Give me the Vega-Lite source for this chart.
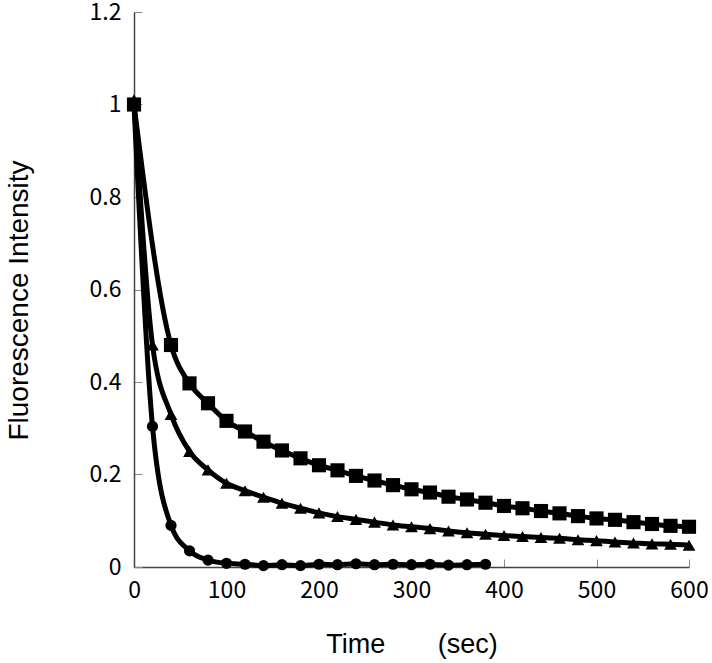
{
  "$schema": "https://vega.github.io/schema/vega-lite/v6.json",
  "width": 555,
  "height": 555,
  "autosize": {"type": "none"},
  "padding": {"left": 134, "top": 12, "right": 23, "bottom": 96},
  "background": "white",
  "config": {
    "view": {"stroke": null},
    "axis": {
      "grid": false,
      "domainColor": "#444",
      "domainWidth": 1.5,
      "tickColor": "#888",
      "tickSize": -8,
      "tickWidth": 1,
      "labelFont": "Noto Sans CJK JP",
      "labelFontSize": 23,
      "labelColor": "#000",
      "titleFont": "Liberation Sans",
      "titleFontWeight": "normal",
      "titleColor": "#000"
    }
  },
  "data": {
    "values": [
      {"series": "A", "t": 0, "v": 1.0},
      {"series": "A", "t": 40, "v": 0.48},
      {"series": "A", "t": 60, "v": 0.397},
      {"series": "A", "t": 80, "v": 0.354},
      {"series": "A", "t": 100, "v": 0.316},
      {"series": "A", "t": 120, "v": 0.293},
      {"series": "A", "t": 140, "v": 0.271},
      {"series": "A", "t": 160, "v": 0.252},
      {"series": "A", "t": 180, "v": 0.235},
      {"series": "A", "t": 200, "v": 0.22},
      {"series": "A", "t": 220, "v": 0.209},
      {"series": "A", "t": 240, "v": 0.197},
      {"series": "A", "t": 260, "v": 0.187},
      {"series": "A", "t": 280, "v": 0.177},
      {"series": "A", "t": 300, "v": 0.168},
      {"series": "A", "t": 320, "v": 0.161},
      {"series": "A", "t": 340, "v": 0.152},
      {"series": "A", "t": 360, "v": 0.146},
      {"series": "A", "t": 380, "v": 0.139},
      {"series": "A", "t": 400, "v": 0.132},
      {"series": "A", "t": 420, "v": 0.127},
      {"series": "A", "t": 440, "v": 0.121},
      {"series": "A", "t": 460, "v": 0.116},
      {"series": "A", "t": 480, "v": 0.110},
      {"series": "A", "t": 500, "v": 0.105},
      {"series": "A", "t": 520, "v": 0.102},
      {"series": "A", "t": 540, "v": 0.097},
      {"series": "A", "t": 560, "v": 0.093},
      {"series": "A", "t": 580, "v": 0.089},
      {"series": "A", "t": 600, "v": 0.087},
      {"series": "B", "t": 0, "v": 1.01},
      {"series": "B", "t": 20, "v": 0.48},
      {"series": "B", "t": 40, "v": 0.33},
      {"series": "B", "t": 60, "v": 0.25},
      {"series": "B", "t": 80, "v": 0.21},
      {"series": "B", "t": 100, "v": 0.181},
      {"series": "B", "t": 120, "v": 0.165},
      {"series": "B", "t": 140, "v": 0.151},
      {"series": "B", "t": 160, "v": 0.138},
      {"series": "B", "t": 180, "v": 0.127},
      {"series": "B", "t": 200, "v": 0.117},
      {"series": "B", "t": 220, "v": 0.109},
      {"series": "B", "t": 240, "v": 0.103},
      {"series": "B", "t": 260, "v": 0.097},
      {"series": "B", "t": 280, "v": 0.091},
      {"series": "B", "t": 300, "v": 0.087},
      {"series": "B", "t": 320, "v": 0.083},
      {"series": "B", "t": 340, "v": 0.078},
      {"series": "B", "t": 360, "v": 0.074},
      {"series": "B", "t": 380, "v": 0.071},
      {"series": "B", "t": 400, "v": 0.068},
      {"series": "B", "t": 420, "v": 0.066},
      {"series": "B", "t": 440, "v": 0.064},
      {"series": "B", "t": 460, "v": 0.062},
      {"series": "B", "t": 480, "v": 0.059},
      {"series": "B", "t": 500, "v": 0.057},
      {"series": "B", "t": 520, "v": 0.054},
      {"series": "B", "t": 540, "v": 0.052},
      {"series": "B", "t": 560, "v": 0.050},
      {"series": "B", "t": 580, "v": 0.049},
      {"series": "B", "t": 600, "v": 0.047},
      {"series": "C", "t": 0, "v": 1.0},
      {"series": "C", "t": 20, "v": 0.304},
      {"series": "C", "t": 40, "v": 0.09},
      {"series": "C", "t": 60, "v": 0.035},
      {"series": "C", "t": 80, "v": 0.015},
      {"series": "C", "t": 100, "v": 0.008},
      {"series": "C", "t": 120, "v": 0.006},
      {"series": "C", "t": 140, "v": 0.003},
      {"series": "C", "t": 160, "v": 0.005},
      {"series": "C", "t": 180, "v": 0.003},
      {"series": "C", "t": 200, "v": 0.006},
      {"series": "C", "t": 220, "v": 0.005},
      {"series": "C", "t": 240, "v": 0.007},
      {"series": "C", "t": 260, "v": 0.005},
      {"series": "C", "t": 280, "v": 0.006},
      {"series": "C", "t": 300, "v": 0.005},
      {"series": "C", "t": 320, "v": 0.006},
      {"series": "C", "t": 340, "v": 0.004},
      {"series": "C", "t": 360, "v": 0.005},
      {"series": "C", "t": 380, "v": 0.006}
    ]
  },
  "encoding": {
    "x": {
      "field": "t", "type": "quantitative",
      "scale": {"domain": [0, 600], "nice": false},
      "axis": {"values": [0, 100, 200, 300, 400, 500, 600], "title": "Time\u00a0\u00a0\u00a0\u00a0\u00a0\u00a0\u00a0(sec)", "titleFontSize": 27, "titlePadding": 29, "labelPadding": 20, "labelFlush": false}
    },
    "y": {
      "field": "v", "type": "quantitative",
      "scale": {"domain": [0, 1.2], "nice": false},
      "axis": {"values": [0, 0.2, 0.4, 0.6, 0.8, 1, 1.2], "format": "~g", "title": "Fluorescence Intensity", "titleFontSize": 28, "titlePadding": 56, "titleY": 288, "labelPadding": 21, "labelFlush": false}
    }
  },
  "layer": [
    {
      "mark": {"type": "line", "color": "black", "strokeWidth": 5, "interpolate": "monotone"},
      "encoding": {"detail": {"field": "series"}}
    },
    {
      "mark": {"type": "point", "filled": true, "color": "black", "opacity": 1},
      "encoding": {
        "shape": {
          "field": "series", "type": "nominal",
          "scale": {"domain": ["A", "B", "C"], "range": ["square", "triangle-up", "circle"]},
          "legend": null
        },
        "size": {
          "field": "series", "type": "nominal",
          "scale": {"domain": ["A", "B", "C"], "range": [200, 125, 140]},
          "legend": null
        }
      }
    }
  ]
}
